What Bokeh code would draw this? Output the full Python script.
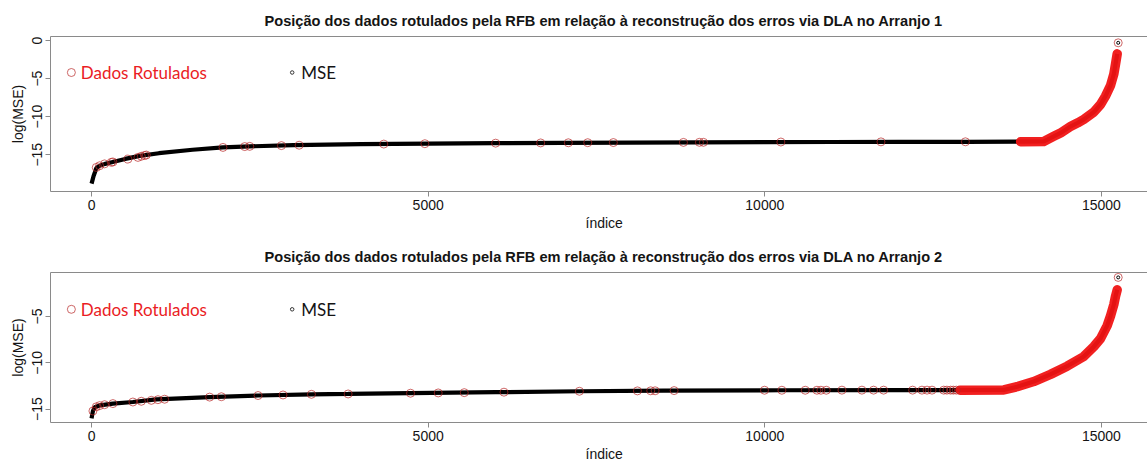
from bokeh.plotting import figure
from bokeh.models import Range1d, FixedTicker, LinearAxis, Title
from bokeh.layouts import column
from bokeh.embed import file_html
from bokeh.resources import INLINE
from bokeh.core.properties import value

# ---------------- data ----------------
# Arranjo 1: sorted reconstruction error profile, log(MSE) by index
curve1_idx = [0, 15, 30, 50, 70, 120, 200, 300, 500, 714, 1000, 1500, 1952, 2349,
              3000, 4000, 5000, 6000, 7000, 8000, 9000, 10000, 11000, 12000, 13000,
              13800, 14144, 14200, 14300, 14400, 14540, 14650, 14739, 14887, 14987,
              15061, 15136, 15185, 15210, 15235, 15250]
curve1_val = [-18.8, -18.3, -17.8, -17.3, -16.75, -16.45, -16.2, -15.98, -15.55, -15.15,
              -14.8, -14.35, -14.04, -13.9, -13.75, -13.62, -13.55, -13.48, -13.43,
              -13.4, -13.37, -13.35, -13.33, -13.31, -13.3, -13.29, -13.25, -13.0,
              -12.55, -12.1, -11.3, -10.8, -10.35, -9.4, -8.4, -7.3, -5.9, -4.4, -3.1,
              -1.75, -0.3]
# labelled points (RFB) lying in the sparse part of the profile
lab1_idx = [70, 119, 193, 293, 317, 540, 689, 739, 788, 813, 1952, 2275, 2349, 2820,
            3083, 4341, 4951, 6002, 6671, 7082, 7370, 7751, 8792, 9029, 9089, 10239,
            11726, 12980, 15250]
lab1_val = [-16.67, -16.45, -16.2, -16.0, -15.95, -15.57, -15.35, -15.2, -15.1, -15.04,
            -14.04, -13.93, -13.9, -13.8, -13.75, -13.6, -13.55, -13.48, -13.45, -13.43,
            -13.42, -13.4, -13.38, -13.37, -13.37, -13.33, -13.31, -13.3, -0.3]
# from this index on, practically every point is labelled
dense1_from = 13800

# Arranjo 2
curve2_idx = [0, 10, 20, 45, 120, 317, 614, 962, 1754, 2473, 3266, 3811, 4728, 6000,
              7256, 8500, 10229, 12000, 12900, 13550, 13748, 13995, 14244, 14491, 14739,
              14887, 14987, 15086, 15136, 15185, 15210, 15235, 15250]
curve2_val = [-16.0, -15.6, -15.2, -14.8, -14.6, -14.4, -14.23, -13.95, -13.7, -13.53,
              -13.4, -13.36, -13.28, -13.17, -13.07, -13.0, -12.96, -12.95, -12.95,
              -12.93, -12.58, -12.02, -11.25, -10.37, -9.32, -8.26, -7.39, -5.99, -4.94,
              -3.71, -2.83, -2.13, -0.79]
lab2_idx = [20, 70, 119, 193, 317, 614, 739, 888, 986, 1085, 1754, 1928, 2473, 2844,
            3266, 3811, 4738, 5149, 5536, 6126, 7246, 8108, 8306, 8371, 8653, 9996,
            10254, 10601, 10775, 10834, 10913, 11146, 11443, 11616, 11765, 12196, 12335,
            12410, 12484, 12658, 12705, 12760, 12800, 12845, 15250]
lab2_val = [-15.2, -14.75, -14.62, -14.52, -14.4, -14.23, -14.15, -14.05, -13.98, -13.93,
            -13.7, -13.66, -13.53, -13.47, -13.4, -13.36, -13.28, -13.25, -13.22, -13.17,
            -13.07, -13.03, -13.02, -13.02, -13.0, -12.96, -12.96, -12.96, -12.96, -12.96,
            -12.96, -12.95, -12.95, -12.95, -12.95, -12.95, -12.95, -12.95, -12.95,
            -12.95, -12.95, -12.95, -12.95, -12.95, -0.79]
dense2_from = 12900

x_ticks = [0, 5000, 10000, 15000]
y_ticks = [-15, -10, -5, 0]

# ---------------- style ----------------
AX_FONT = "Liberation Sans"
LEG_FONT = "Lato"
LINE_GRAY = "#8a8a8a"
TXT = "#141414"
RED_SOFT = "#b82828"
RED_BAND = "#f01414"

TITLE_FMT = ("Posição dos dados rotulados pela RFB em relação à "
             "reconstrução dos erros via DLA no Arranjo {}")


def tail(idx_list, val_list, start):
    """Profile anchors from `start` onward (the densely labelled tail)."""
    xs, ys = [], []
    for i, v in zip(idx_list, val_list):
        if i >= start:
            xs.append(i)
            ys.append(v)
    return xs, ys


def panel(n, c_idx, c_val, l_idx, l_val, dense_from, y_rng, height, top, bottom,
          leg_y):
    p = figure(width=1147, height=height, output_backend="svg", toolbar_location=None,
               x_range=Range1d(-610, 15685), y_range=Range1d(*y_rng),
               min_border_left=50, min_border_right=0, min_border_top=top,
               min_border_bottom=bottom, background_fill_color="white",
               border_fill_color="white", outline_line_color=None)
    p.xgrid.visible = False
    p.ygrid.visible = False

    # title
    p.title.text = TITLE_FMT.format(n)
    p.title.text_font = AX_FONT
    p.title.text_font_size = "14.6px"
    p.title.text_font_style = "bold"
    p.title.text_color = TXT
    p.title.align = "left"
    p.title.offset = 214
    p.title.standoff = 16

    for ax in (p.xaxis[0], p.yaxis[0]):
        ax.axis_line_color = LINE_GRAY
        ax.major_tick_line_color = LINE_GRAY
        ax.minor_tick_line_color = None
        ax.major_tick_out = 5
        ax.major_tick_in = 0
        ax.major_label_text_font = AX_FONT
        ax.major_label_text_font_size = "14px"
        ax.major_label_text_color = TXT
        ax.axis_label_text_font = AX_FONT
        ax.axis_label_text_font_size = "14px"
        ax.axis_label_text_font_style = "normal"
        ax.axis_label_text_color = TXT
        ax.major_label_standoff = 3

    p.xaxis.ticker = FixedTicker(ticks=x_ticks)
    p.yaxis.ticker = FixedTicker(ticks=y_ticks)
    p.yaxis.major_label_orientation = "vertical"
    p.yaxis.axis_label = "log(MSE)"
    p.yaxis.axis_label_standoff = 4

    # top edge of the box
    top_ax = LinearAxis(ticker=FixedTicker(ticks=[]), axis_line_color=LINE_GRAY,
                        major_tick_line_color=None, minor_tick_line_color=None,
                        major_label_text_font_size="0px")
    p.add_layout(top_ax, "above")

    # x-axis label, placed under the tick labels
    xl = Title(text="índice", text_font=AX_FONT, text_font_size="14px",
               text_font_style="normal", text_color=TXT, align="left", offset=535,
               standoff=0)
    p.add_layout(xl, "below")

    # sorted profile (black)
    p.line(c_idx[:-1], c_val[:-1], line_color="black", line_width=4.2)
    p.scatter([c_idx[-1]], [c_val[-1]], marker="circle", size=3, fill_color=None,
              line_color="black", line_width=1)

    # densely labelled tail drawn as overlapping red circles
    b_idx, b_val = tail(c_idx[:-1], c_val[:-1], dense_from)
    p.line(b_idx, b_val, line_color=RED_BAND, line_width=9.5, line_alpha=0.95,
           line_cap="round", line_join="round")

    # sparse labelled points
    p.scatter(l_idx, l_val, marker="circle", size=8, fill_color=None,
              line_color=RED_SOFT, line_alpha=0.7, line_width=1)

    # legend
    p.scatter([-300], [leg_y], marker="circle", size=8, fill_color=None,
              line_color=RED_SOFT, line_alpha=0.7, line_width=1)
    p.text([-160], [leg_y], text=["Dados Rotulados"], text_font=value(LEG_FONT),
           text_font_size="17px", text_color="#ea1c24", text_baseline="middle")
    p.scatter([2980], [leg_y], marker="circle", size=3.5, fill_color=None,
              line_color="#333333", line_width=1)
    p.text([3115], [leg_y], text=["MSE"], text_font=value(LEG_FONT),
           text_font_size="17px", text_color=TXT, text_baseline="middle")
    return p


p1 = panel(1, curve1_idx, curve1_val, lab1_idx, lab1_val, dense1_from,
           (-19.83, 0.53), 230, 36, 39, -4.2)
p2 = panel(2, curve2_idx, curve2_val, lab2_idx, lab2_val, dense2_from,
           (-16.44, -0.26), 231, 42, 35, -4.23)

layout = column(p1, p2, spacing=0)
open("out.html", "w").write(file_html(layout, INLINE))
